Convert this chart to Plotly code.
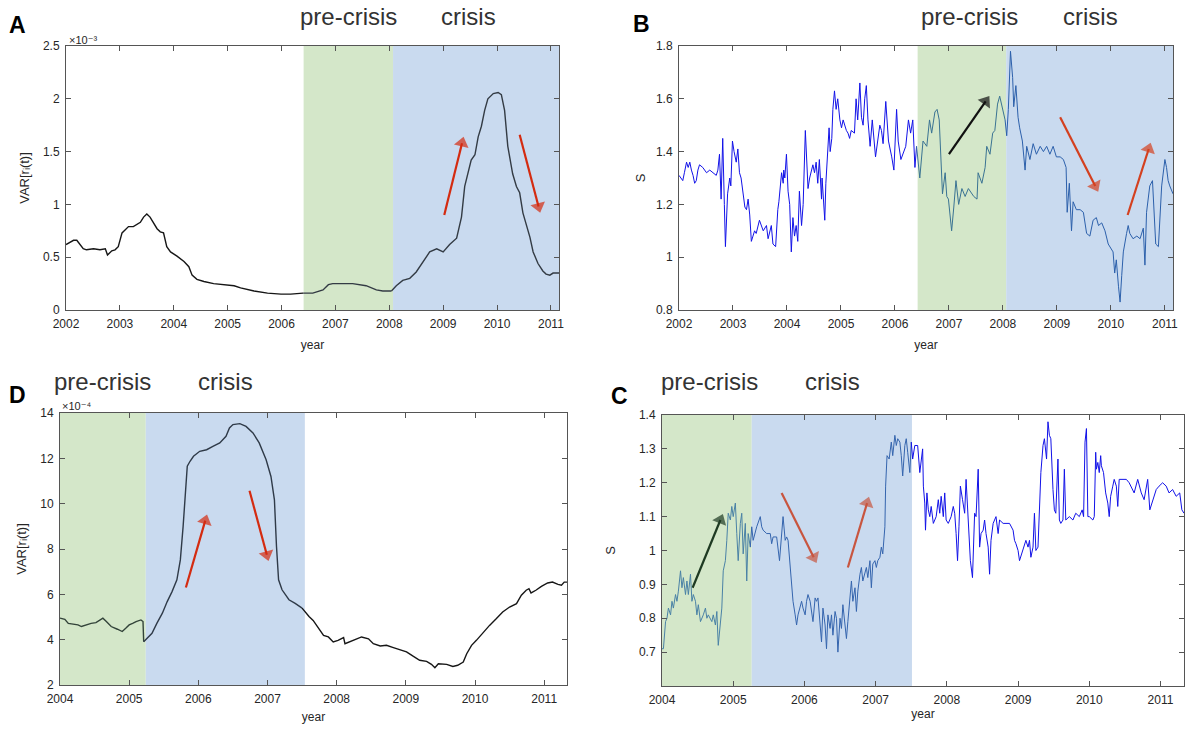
import bisect
import plotly.graph_objects as go

W, H = 1188, 730

# ---------------- Panel A : VAR[r_i(t)] (x 1e-3), 2002-2011 ----------------
a_year = [2002.00, 2002.14, 2002.20, 2002.26, 2002.32, 2002.38, 2002.51, 2002.63, 2002.73, 2002.77,
          2002.85, 2002.91, 2002.97, 2003.04, 2003.10, 2003.16, 2003.25, 2003.32, 2003.38, 2003.44,
          2003.50, 2003.56, 2003.63, 2003.69, 2003.75, 2003.81, 2003.87, 2003.94, 2004.06, 2004.19,
          2004.28, 2004.34, 2004.43, 2004.56, 2004.74, 2004.93, 2005.12, 2005.24, 2005.49, 2005.74,
          2005.99, 2006.17, 2006.40, 2006.58, 2006.77, 2006.87, 2006.95, 2007.20, 2007.32, 2007.57,
          2007.76, 2007.88, 2008.04, 2008.13, 2008.25, 2008.38, 2008.50, 2008.63, 2008.75, 2008.88,
          2009.00, 2009.12, 2009.25, 2009.34, 2009.40, 2009.52, 2009.59, 2009.65, 2009.71, 2009.77,
          2009.83, 2009.93, 2010.02, 2010.08, 2010.14, 2010.20, 2010.29, 2010.36, 2010.42, 2010.48,
          2010.54, 2010.61, 2010.67, 2010.76, 2010.85, 2010.91, 2010.98, 2011.04, 2011.15]
a_var = [0.62, 0.66, 0.66, 0.62, 0.58, 0.57, 0.58, 0.57, 0.58, 0.52,
         0.56, 0.57, 0.60, 0.73, 0.76, 0.79, 0.79, 0.81, 0.83, 0.88,
         0.91, 0.88, 0.82, 0.77, 0.74, 0.73, 0.60, 0.55, 0.51, 0.46,
         0.41, 0.33, 0.29, 0.27, 0.25, 0.24, 0.23, 0.21, 0.18, 0.16,
         0.15, 0.15, 0.16, 0.16, 0.19, 0.24, 0.25, 0.25, 0.25, 0.23,
         0.19, 0.18, 0.18, 0.23, 0.28, 0.30, 0.36, 0.46, 0.55, 0.58,
         0.55, 0.62, 0.68, 0.88, 1.17, 1.42, 1.47, 1.64, 1.74, 1.89,
         2.00, 2.05, 2.06, 2.04, 1.89, 1.55, 1.29, 1.17, 1.11, 0.92,
         0.82, 0.69, 0.55, 0.44, 0.37, 0.34, 0.33, 0.35, 0.35]

# ---------------- Panel B : S, 2002-2011 ----------------
b_year = [2002.00, 2002.04, 2002.07, 2002.10, 2002.14, 2002.17, 2002.20, 2002.23, 2002.26, 2002.29,
          2002.32, 2002.35, 2002.38, 2002.44, 2002.51, 2002.57, 2002.63, 2002.69, 2002.72, 2002.75,
          2002.78, 2002.81, 2002.84, 2002.86, 2002.90, 2002.94, 2002.96, 2002.99, 2003.02, 2003.06,
          2003.09, 2003.12, 2003.15, 2003.19, 2003.22, 2003.25, 2003.28, 2003.31, 2003.34, 2003.37,
          2003.40, 2003.43, 2003.49, 2003.56, 2003.62, 2003.65, 2003.68, 2003.71, 2003.74, 2003.79,
          2003.83, 2003.85, 2003.90, 2003.93, 2003.94, 2003.96, 2003.99, 2004.02, 2004.05, 2004.08,
          2004.11, 2004.14, 2004.17, 2004.20, 2004.23, 2004.27, 2004.30, 2004.34, 2004.39, 2004.42,
          2004.48, 2004.51, 2004.54, 2004.57, 2004.60, 2004.64, 2004.65, 2004.68, 2004.70, 2004.72,
          2004.75, 2004.78, 2004.80, 2004.83, 2004.85, 2004.88, 2004.91, 2004.94, 2004.98, 2005.01,
          2005.04, 2005.10, 2005.13, 2005.16, 2005.19, 2005.25, 2005.28, 2005.31, 2005.35, 2005.38,
          2005.41, 2005.44, 2005.47, 2005.50, 2005.54, 2005.58, 2005.64, 2005.69, 2005.72, 2005.75,
          2005.78, 2005.83, 2005.88, 2005.94, 2005.98, 2006.03, 2006.06, 2006.11, 2006.15, 2006.20,
          2006.25, 2006.29, 2006.33, 2006.37, 2006.40, 2006.46, 2006.52, 2006.59, 2006.64, 2006.68,
          2006.74, 2006.78, 2006.82, 2006.85, 2006.88, 2006.93, 2006.96, 2006.99, 2007.02, 2007.05,
          2007.09, 2007.13, 2007.18, 2007.24, 2007.30, 2007.36, 2007.46, 2007.52, 2007.54, 2007.61,
          2007.67, 2007.70, 2007.76, 2007.81, 2007.85, 2007.90, 2007.94, 2007.99, 2008.04, 2008.07,
          2008.10, 2008.14, 2008.18, 2008.20, 2008.24, 2008.28, 2008.31, 2008.36, 2008.41, 2008.44,
          2008.50, 2008.56, 2008.62, 2008.69, 2008.75, 2008.81, 2008.87, 2008.93, 2008.99, 2009.06,
          2009.12, 2009.17, 2009.19, 2009.23, 2009.27, 2009.30, 2009.36, 2009.43, 2009.49, 2009.55,
          2009.61, 2009.67, 2009.73, 2009.77, 2009.83, 2009.89, 2009.95, 2010.01, 2010.04, 2010.07,
          2010.10, 2010.14, 2010.17, 2010.20, 2010.23, 2010.29, 2010.32, 2010.35, 2010.41, 2010.48,
          2010.54, 2010.60, 2010.63, 2010.66, 2010.72, 2010.77, 2010.80, 2010.83, 2010.88, 2010.91,
          2010.94, 2011.00, 2011.03, 2011.06, 2011.09, 2011.15]
b_s = [1.31, 1.30, 1.29, 1.32, 1.36, 1.34, 1.36, 1.33, 1.31, 1.28,
       1.29, 1.33, 1.35, 1.34, 1.32, 1.33, 1.32, 1.31, 1.33, 1.39,
       1.22, 1.45, 1.20, 1.04, 1.24, 1.30, 1.27, 1.44, 1.40, 1.36,
       1.41, 1.32, 1.30, 1.24, 1.19, 1.18, 1.22, 1.16, 1.06, 1.08,
       1.10, 1.09, 1.14, 1.10, 1.12, 1.07, 1.10, 1.12, 1.05, 1.04,
       1.18, 1.21, 1.32, 1.28, 1.33, 1.30, 1.39, 1.25, 1.20, 1.02,
       1.15, 1.08, 1.12, 1.06, 1.25, 1.12, 1.20, 1.48, 1.26, 1.30,
       1.35, 1.32, 1.36, 1.28, 1.37, 1.22, 1.30, 1.18, 1.14, 1.28,
       1.38, 1.49, 1.40, 1.45, 1.56, 1.63, 1.56, 1.60, 1.52, 1.49,
       1.52, 1.48, 1.47, 1.45, 1.48, 1.47, 1.60, 1.52, 1.66, 1.53,
       1.50, 1.60, 1.65, 1.52, 1.42, 1.52, 1.38, 1.47, 1.50, 1.48,
       1.43, 1.59, 1.44, 1.38, 1.33, 1.56, 1.44, 1.37, 1.39, 1.42,
       1.52, 1.47, 1.52, 1.34, 1.42, 1.30, 1.44, 1.42, 1.52, 1.47,
       1.55, 1.56, 1.52, 1.34, 1.24, 1.32, 1.23, 1.22, 1.15, 1.10,
       1.19, 1.29, 1.20, 1.26, 1.23, 1.26, 1.23, 1.22, 1.32, 1.28,
       1.34, 1.42, 1.39, 1.47, 1.48, 1.58, 1.61, 1.57, 1.52, 1.46,
       1.56, 1.78, 1.68, 1.57, 1.65, 1.53, 1.49, 1.44, 1.33, 1.42,
       1.37, 1.43, 1.39, 1.42, 1.40, 1.42, 1.39, 1.42, 1.38, 1.38,
       1.37, 1.34, 1.17, 1.28, 1.10, 1.21, 1.18, 1.18, 1.17, 1.09,
       1.08, 1.14, 1.15, 1.12, 1.13, 1.10, 1.05, 1.03, 1.02, 0.94,
       0.99, 0.89, 0.83, 0.93, 1.02, 1.09, 1.12, 1.09, 1.07, 1.08,
       1.07, 1.11, 0.97, 1.17, 1.27, 1.29, 1.17, 1.05, 1.04, 1.17,
       1.27, 1.37, 1.34, 1.29, 1.27, 1.24]

# ---------------- Panel D : VAR[r_i(t)] (x 1e-4), 2004-2011 ----------------
d_year = [2004.00, 2004.07, 2004.12, 2004.19, 2004.26, 2004.31, 2004.38, 2004.45, 2004.52, 2004.57,
          2004.62, 2004.67, 2004.74, 2004.83, 2004.90, 2004.95, 2005.00, 2005.05, 2005.10, 2005.17,
          2005.20, 2005.21, 2005.26, 2005.33, 2005.40, 2005.48, 2005.55, 2005.62, 2005.69, 2005.74,
          2005.78, 2005.81, 2005.84, 2005.88, 2005.93, 2006.02, 2006.12, 2006.21, 2006.31, 2006.40,
          2006.45, 2006.50, 2006.60, 2006.69, 2006.79, 2006.88, 2006.98, 2007.05, 2007.10, 2007.13,
          2007.16, 2007.21, 2007.31, 2007.40, 2007.50, 2007.60, 2007.66, 2007.76, 2007.81, 2007.88,
          2007.95, 2008.02, 2008.10, 2008.12, 2008.19, 2008.29, 2008.36, 2008.46, 2008.53, 2008.63,
          2008.72, 2008.82, 2008.91, 2009.01, 2009.11, 2009.20, 2009.30, 2009.37, 2009.42, 2009.47,
          2009.59, 2009.68, 2009.75, 2009.83, 2009.88, 2009.95, 2010.02, 2010.12, 2010.21, 2010.31,
          2010.40, 2010.50, 2010.60, 2010.67, 2010.74, 2010.78, 2010.81, 2010.88, 2010.96, 2011.05,
          2011.12, 2011.20, 2011.25, 2011.29, 2011.33]
d_var = [4.95, 4.90, 4.72, 4.70, 4.65, 4.58, 4.65, 4.72, 4.75, 4.87,
         4.95, 4.80, 4.58, 4.46, 4.36, 4.50, 4.65, 4.72, 4.80, 4.87,
         4.80, 3.91, 4.06, 4.28, 4.72, 5.17, 5.68, 6.12, 6.64, 7.52,
         9.00, 10.47, 11.65, 11.87, 12.09, 12.31, 12.38, 12.53, 12.68, 12.97,
         13.34, 13.49, 13.53, 13.41, 13.12, 12.68, 11.94, 11.20, 10.17, 8.11,
         6.64, 6.20, 5.76, 5.60, 5.39, 5.02, 4.85, 4.44, 4.19, 4.12,
         3.90, 3.97, 4.09, 3.82, 3.90, 4.04, 4.12, 4.04, 3.82, 3.72,
         3.75, 3.65, 3.56, 3.46, 3.26, 3.09, 3.04, 2.91, 2.76, 2.94,
         2.91, 2.82, 2.87, 3.01, 3.38, 3.75, 3.97, 4.34, 4.63, 4.93,
         5.22, 5.44, 5.59, 5.96, 6.18, 6.25, 6.06, 6.18, 6.35, 6.50,
         6.54, 6.44, 6.40, 6.54, 6.54]

# ---------------- Panel C : S, 2004-2011 ----------------
c_year = [2004.00, 2004.02, 2004.05, 2004.07, 2004.09, 2004.12, 2004.14, 2004.16, 2004.19, 2004.21,
          2004.23, 2004.26, 2004.28, 2004.30, 2004.33, 2004.35, 2004.37, 2004.40, 2004.42, 2004.44,
          2004.47, 2004.49, 2004.51, 2004.54, 2004.58, 2004.61, 2004.63, 2004.65, 2004.70, 2004.72,
          2004.75, 2004.77, 2004.79, 2004.82, 2004.84, 2004.86, 2004.89, 2004.91, 2004.93, 2004.96,
          2004.98, 2005.00, 2005.03, 2005.05, 2005.07, 2005.10, 2005.12, 2005.14, 2005.17, 2005.19,
          2005.21, 2005.24, 2005.26, 2005.28, 2005.31, 2005.33, 2005.38, 2005.40, 2005.42, 2005.47,
          2005.52, 2005.54, 2005.56, 2005.61, 2005.65, 2005.68, 2005.70, 2005.73, 2005.75, 2005.77,
          2005.80, 2005.82, 2005.84, 2005.87, 2005.89, 2005.91, 2005.94, 2005.96, 2005.98, 2006.01,
          2006.03, 2006.05, 2006.08, 2006.10, 2006.12, 2006.15, 2006.17, 2006.19, 2006.22, 2006.24,
          2006.26, 2006.29, 2006.31, 2006.33, 2006.36, 2006.38, 2006.40, 2006.43, 2006.45, 2006.47,
          2006.50, 2006.52, 2006.54, 2006.57, 2006.59, 2006.61, 2006.64, 2006.66, 2006.68, 2006.71,
          2006.73, 2006.75, 2006.78, 2006.80, 2006.82, 2006.85, 2006.87, 2006.89, 2006.92, 2006.94,
          2006.96, 2006.99, 2007.01, 2007.03, 2007.06, 2007.08, 2007.10, 2007.13, 2007.14, 2007.16,
          2007.19, 2007.22, 2007.24, 2007.27, 2007.29, 2007.31, 2007.34, 2007.36, 2007.38, 2007.41,
          2007.43, 2007.45, 2007.48, 2007.50, 2007.52, 2007.55, 2007.57, 2007.59, 2007.62, 2007.64,
          2007.66, 2007.67, 2007.69, 2007.70, 2007.72, 2007.74, 2007.76, 2007.78, 2007.81, 2007.83,
          2007.85, 2007.88, 2007.90, 2007.92, 2007.95, 2007.97, 2007.99, 2008.02, 2008.04, 2008.06,
          2008.09, 2008.11, 2008.13, 2008.15, 2008.17, 2008.19, 2008.22, 2008.25, 2008.27, 2008.29,
          2008.32, 2008.33, 2008.36, 2008.38, 2008.39, 2008.41, 2008.44, 2008.46, 2008.48, 2008.51,
          2008.53, 2008.55, 2008.58, 2008.60, 2008.62, 2008.65, 2008.67, 2008.69, 2008.72, 2008.74,
          2008.79, 2008.83, 2008.88, 2008.93, 2008.95, 2008.97, 2009.00, 2009.02, 2009.07, 2009.11,
          2009.14, 2009.16, 2009.18, 2009.21, 2009.23, 2009.25, 2009.28, 2009.30, 2009.32, 2009.35,
          2009.37, 2009.40, 2009.42, 2009.44, 2009.46, 2009.49, 2009.51, 2009.53, 2009.56, 2009.58,
          2009.60, 2009.63, 2009.65, 2009.67, 2009.72, 2009.77, 2009.81, 2009.86, 2009.90, 2009.92,
          2009.94, 2009.96, 2009.98, 2010.00, 2010.05, 2010.07, 2010.09, 2010.10, 2010.12, 2010.14,
          2010.16, 2010.17, 2010.20, 2010.23, 2010.26, 2010.28, 2010.30, 2010.33, 2010.35, 2010.38,
          2010.40, 2010.42, 2010.47, 2010.52, 2010.56, 2010.61, 2010.63, 2010.68, 2010.73, 2010.77,
          2010.82, 2010.85, 2010.89, 2010.94, 2010.98, 2011.03, 2011.08, 2011.12, 2011.17, 2011.22,
          2011.27, 2011.30, 2011.33]
c_s = [0.71, 0.71, 0.79, 0.80, 0.83, 0.81, 0.85, 0.83, 0.87, 0.85,
       0.88, 0.94, 0.89, 0.92, 0.87, 0.91, 0.87, 0.93, 0.85, 0.87,
       0.85, 0.81, 0.84, 0.79, 0.81, 0.83, 0.80, 0.81, 0.79, 0.81,
       0.78, 0.82, 0.72, 0.78, 0.83, 0.94, 0.97, 1.03, 1.11, 1.09,
       1.13, 1.10, 1.14, 1.05, 0.97, 1.08, 1.11, 0.99, 1.08, 0.91,
       1.05, 1.01, 1.07, 1.03, 1.06, 1.07, 1.10, 1.07, 1.06, 1.05,
       1.05, 1.02, 1.04, 1.04, 0.97, 1.04, 1.10, 1.03, 1.04, 1.03,
       0.95, 0.89, 0.85, 0.81, 0.78, 0.81, 0.83, 0.85, 0.83, 0.81,
       0.85, 0.87, 0.85, 0.81, 0.79, 0.86, 0.85, 0.86, 0.77, 0.73,
       0.83, 0.78, 0.71, 0.81, 0.77, 0.81, 0.75, 0.82, 0.80, 0.70,
       0.80, 0.77, 0.84, 0.77, 0.74, 0.79, 0.87, 0.91, 0.85, 0.89,
       0.82, 0.88, 0.93, 0.95, 0.91, 0.93, 0.95, 0.92, 0.97, 0.89,
       0.96, 0.97, 0.95, 0.97, 0.98, 1.01, 0.99, 1.07, 1.19, 1.28,
       1.27, 1.32, 1.28, 1.34, 1.31, 1.33, 1.32, 1.28, 1.22, 1.31,
       1.33, 1.29, 1.23, 1.32, 1.27, 1.31, 1.31, 1.31, 1.23, 1.27,
       1.30, 1.19, 1.14, 1.06, 1.17, 1.12, 1.10, 1.13, 1.08, 1.09,
       1.10, 1.15, 1.11, 1.16, 1.10, 1.17, 1.09, 1.08, 1.09, 1.10,
       1.13, 1.11, 1.05, 0.97, 1.07, 1.19, 1.15, 1.11, 1.21, 1.13,
       1.05, 0.97, 0.92, 1.05, 1.11, 1.10, 1.24, 1.01, 1.05, 1.06,
       1.09, 1.05, 1.01, 0.93, 1.03, 1.08, 1.09, 1.10, 1.05, 1.09,
       1.08, 1.08, 1.08, 1.06, 1.03, 1.02, 1.00, 0.97, 1.00, 1.03,
       1.01, 1.03, 0.98, 1.01, 1.11, 1.00, 1.01, 1.15, 1.23, 1.31,
       1.33, 1.27, 1.38, 1.34, 1.33, 1.18, 1.12, 1.11, 1.27, 1.09,
       1.08, 1.09, 1.24, 1.09, 1.10, 1.09, 1.11, 1.10, 1.12, 1.10,
       1.32, 1.36, 1.10, 1.10, 1.09, 1.10, 1.29, 1.24, 1.26, 1.23,
       1.28, 1.25, 1.23, 1.17, 1.14, 1.10, 1.16, 1.19, 1.21, 1.19,
       1.13, 1.21, 1.21, 1.21, 1.20, 1.18, 1.17, 1.21, 1.17, 1.15,
       1.21, 1.12, 1.15, 1.18, 1.19, 1.20, 1.19, 1.17, 1.18, 1.16,
       1.17, 1.12, 1.11]

# ---------------- periods (pre-crisis start, crisis start, crisis end) ----------------
periods = {
    "A": (2006.41, 2008.07, 2011.15),
    "B": (2006.42, 2008.06, 2011.15),
    "D": (2004.00, 2005.24, 2007.54),
    "C": (2004.00, 2005.26, 2007.51),
}
x_ranges = {"A": (2002, 2011.15), "B": (2002, 2011.15), "D": (2004, 2011.33), "C": (2004, 2011.33)}
y_ranges = {"A": (0, 2.5), "B": (0.8, 1.8), "D": (2, 14), "C": (0.6, 1.4)}
y_ticks = {"A": [0, 0.5, 1, 1.5, 2, 2.5], "B": [0.8, 1, 1.2, 1.4, 1.6, 1.8],
           "D": [2, 4, 6, 8, 10, 12, 14], "C": [0.7, 0.8, 0.9, 1, 1.1, 1.2, 1.3, 1.4]}
x_ticks = {"A": list(range(2002, 2012)), "B": list(range(2002, 2012)),
           "D": list(range(2004, 2012)), "C": list(range(2004, 2012))}
x_titles = {"A": "year", "B": "year", "D": "year", "C": "year"}
y_titles = {"A": "VAR[r\u1d62(t)]", "B": "S", "D": "VAR[r\u1d62(t)]", "C": "S"}
exponents = {"A": "\u00d710\u207b\u00b3", "D": "\u00d710\u207b\u2074"}

# arrows: (tail_x, tail_y, head_x, head_y, colour)
arrows = {
    "A": [(2009.02, 0.90, 2009.35, 1.58, "#d42b10"), (2010.42, 1.66, 2010.77, 0.98, "#d42b10")],
    "B": [(2007.00, 1.39, 2007.68, 1.59, "#111111"), (2009.06, 1.53, 2009.71, 1.27, "#d4401f"),
          (2010.31, 1.16, 2010.70, 1.41, "#d4401f")],
    "D": [(2005.82, 6.30, 2006.10, 9.25, "#d42b10"), (2006.74, 10.57, 2006.99, 7.75, "#d42b10")],
    "C": [(2004.43, 0.89, 2004.82, 1.09, "#1e3a22"), (2005.68, 1.17, 2006.13, 0.98, "#c8553f"),
          (2006.61, 0.95, 2006.88, 1.14, "#c8553f")],
}

# ---------------- layout geometry (pixels) ----------------
boxes = {  # left, right, top, bottom
    "A": (66, 559, 46, 310),
    "B": (679, 1173, 46, 310),
    "D": (60, 567, 413, 685),
    "C": (662, 1184, 415, 686),
}
x_title_standoff = {"A": 10, "B": 10, "D": 7, "C": 2}
y_title_standoff = {"A": 10, "B": 7, "D": 10, "C": 20}
axis_ids = {"A": ("x", "y"), "B": ("x2", "y2"), "D": ("x3", "y3"), "C": ("x4", "y4")}

GREEN = "#d4e7c9"
BLUE = "#c9daef"
FONT = "Liberation Sans, Arial, DejaVu Sans, sans-serif"
TXT = "#262626"


def px(x):
    return x / W


def py(y):
    return 1 - y / H


fig = go.Figure()


def add_segmented(xs, ys, bounds, colors, xa, ya, width):
    seg = [bisect.bisect_right(bounds, x) for x in xs]
    for s, col in enumerate(colors):
        idx = [i for i in range(len(xs)) if seg[i] == s]
        if not idx:
            continue
        lo, hi = idx[0], idx[-1]
        if lo > 0:
            lo -= 1
        fig.add_trace(go.Scatter(x=xs[lo:hi + 1], y=ys[lo:hi + 1], mode="lines",
                                 line=dict(color=col, width=width), xaxis=xa, yaxis=ya,
                                 showlegend=False, hoverinfo="skip"))


add_segmented(a_year, a_var, [periods["A"][0], periods["A"][1]],
              ["#161616", "#333b44", "#333b44"], "x", "y", 1.4)
add_segmented(b_year, b_s, [periods["B"][0], periods["B"][1]],
              ["#1212e8", "#3a7393", "#2c60ab"], "x2", "y2", 1.0)
add_segmented(d_year, d_var, [periods["D"][1], periods["D"][2]],
              ["#33443a", "#2f3a48", "#161616"], "x3", "y3", 1.4)
add_segmented(c_year, c_s, [periods["C"][1], periods["C"][2]],
              ["#4a82a6", "#3565ae", "#1212e8"], "x4", "y4", 1.0)

shapes = []
annotations = []
layout_axes = {}

for key, (l, r, t, b) in boxes.items():
    xa, ya = axis_ids[key]
    xname = "xaxis" + xa[1:]
    yname = "yaxis" + ya[1:]
    common = dict(showgrid=False, zeroline=False, showline=True, linecolor="#555555", linewidth=1,
                  mirror="ticks", ticks="inside", ticklen=5, tickwidth=1, tickcolor="#555555",
                  tickfont=dict(family=FONT, size=12, color=TXT), ticklabelstandoff=3,
                  automargin=False)
    layout_axes[xname] = dict(common, domain=[px(l), px(r)], range=list(x_ranges[key]),
                              tickvals=x_ticks[key], ticktext=[str(v) for v in x_ticks[key]],
                              anchor=ya,
                              title=dict(text=x_titles[key], standoff=x_title_standoff[key],
                                         font=dict(family=FONT, size=12, color=TXT)))
    layout_axes[yname] = dict(common, domain=[py(b), py(t)], range=list(y_ranges[key]),
                              tickvals=y_ticks[key], anchor=xa,
                              title=dict(text=y_titles[key], standoff=y_title_standoff[key],
                                         font=dict(family=FONT, size=13, color=TXT)))
    p0, p1, p2 = periods[key]
    shapes.append(dict(type="rect", xref=xa, yref=ya + " domain", x0=p0, x1=p1, y0=0, y1=1,
                       fillcolor=GREEN, line=dict(width=0), layer="below"))
    shapes.append(dict(type="rect", xref=xa, yref=ya + " domain", x0=p1, x1=p2, y0=0, y1=1,
                       fillcolor=BLUE, line=dict(width=0), layer="below"))
    # arrows: line trace with a triangular head at the head end
    for (tx, ty, hx, hy, col) in arrows[key]:
        fig.add_trace(go.Scatter(x=[tx, hx], y=[ty, hy], mode="lines+markers",
                                 line=dict(color=col, width=2.2),
                                 marker=dict(symbol="triangle-up", angleref="previous", size=[0, 13],
                                             color=col, line=dict(width=0)),
                                 xaxis=xa, yaxis=ya, showlegend=False, hoverinfo="skip"))


def label(text, x, y, size, bold=False, angle=0, xanchor="center", color=TXT):
    annotations.append(dict(text=("<b>%s</b>" % text) if bold else text, x=px(x), y=py(y),
                            xref="paper", yref="paper", showarrow=False, textangle=angle,
                            xanchor=xanchor, yanchor="middle",
                            font=dict(family=FONT, size=size, color=color)))


# panel letters
label("A", 17, 25, 23, bold=True, color="#000")
label("B", 641, 24, 23, bold=True, color="#000")
label("D", 17, 395, 23, bold=True, color="#000")
label("C", 619, 396, 23, bold=True, color="#000")

# period titles
for (t, x, y) in [("pre-crisis", 348, 17), ("crisis", 468, 17),
                  ("pre-crisis", 969, 17), ("crisis", 1090, 17),
                  ("pre-crisis", 103, 382), ("crisis", 225, 382),
                  ("pre-crisis", 709, 382), ("crisis", 832, 382)]:
    label(t, x, y, 24, color="#333333")

# exponent labels
label(exponents["A"], 67, 40, 11, xanchor="left")
label(exponents["D"], 60, 406, 11, xanchor="left")

fig.update_layout(template="none", width=W, height=H,
                  margin=dict(l=0, r=0, t=0, b=0, autoexpand=False),
                  paper_bgcolor="white", plot_bgcolor="white", showlegend=False,
                  shapes=shapes, annotations=annotations, **layout_axes)

fig.write_html("out.html")
